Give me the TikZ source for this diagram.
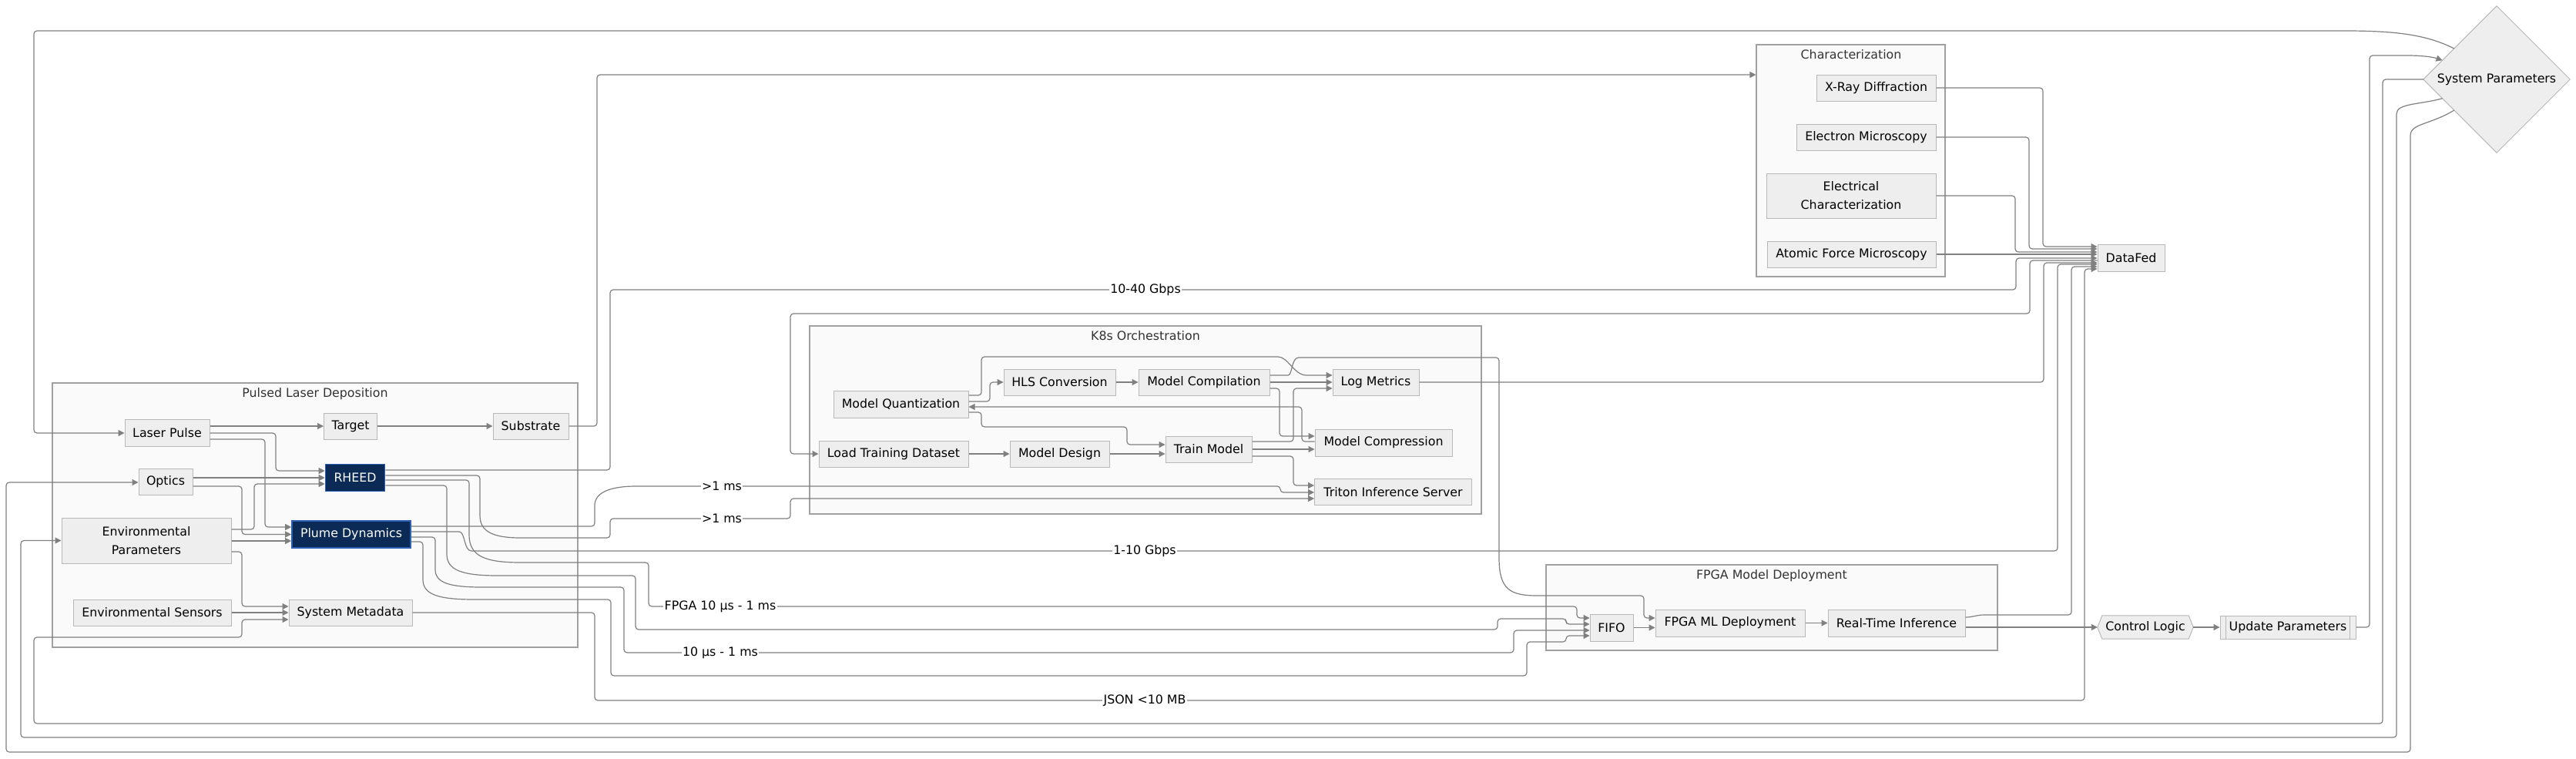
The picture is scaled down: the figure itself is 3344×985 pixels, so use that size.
\documentclass[tikz,border=0pt]{standalone}
\usepackage{fontspec}
\setmainfont{DejaVu Sans}
\usetikzlibrary{arrows.meta,calc,backgrounds}
\definecolor{nodefill}{HTML}{EEEEEE}
\definecolor{nodeborder}{HTML}{B8B8B8}
\definecolor{clusterfill}{HTML}{FAFAFA}
\definecolor{clusterborder}{HTML}{A0A0A0}
\definecolor{darkfill}{HTML}{0B2A55}
\definecolor{darkborder}{HTML}{2D5FB5}
\definecolor{edgecol}{HTML}{808080}
\definecolor{titletext}{HTML}{333333}
\begin{document}
\begin{tikzpicture}[x=1pt,y=-1pt,
  font=\fontsize{15.8}{24}\selectfont,
  box/.style={draw=nodeborder, fill=nodefill, line width=1pt, inner xsep=4pt, inner ysep=2pt, align=center, text=black},
  dark/.style={box, draw=darkborder, fill=darkfill, text=white, line width=1.6pt},
  cluster/.style={draw=clusterborder, fill=clusterfill, line width=1.2pt, inner sep=0pt},
  ctitle/.style={text=titletext, inner sep=0pt},
  shapebox/.style={draw=nodeborder, fill=nodefill, line width=1pt},
  conn/.style={draw=edgecol, line width=1.2pt, rounded corners=4pt},
  conarr/.style={conn, -{Triangle[length=8pt,width=8pt]}},
  elabel/.style={fill=white, inner sep=1.5pt, text=black}
]
\useasboundingbox (0,0) rectangle (3344,985);
\begin{pgfonlayer}{background}
\fill[white] (0,0) rectangle (3344,985);
\node[cluster,minimum width=682,minimum height=343] (pld) at (409,668.5) {};
\node[cluster,minimum width=245,minimum height=301] (char) at (2402.5,208.5) {};
\node[cluster,minimum width=872,minimum height=244] (k8s) at (1487,545) {};
\node[cluster,minimum width=586,minimum height=111] (fpga) at (2300,788.5) {};
\end{pgfonlayer}

% cluster titles
\node[ctitle,anchor=base] (pldt) at (409,515.5) {Pulsed Laser Deposition};
\node[ctitle,anchor=base] (chart) at (2403,76.5) {Characterization};
\node[ctitle,anchor=base] (k8st) at (1487,441.5) {K8s Orchestration};
\node[ctitle,anchor=base] (fpgat) at (2300,751.5) {FPGA Model Deployment};

% PLD nodes
\node[box,minimum width=110,minimum height=35] (lp) at (217,562) {Laser Pulse};
\node[box,minimum width=69,minimum height=34] (tg) at (455,553) {Target};
\node[box,minimum width=98,minimum height=34] (sb) at (689,553) {Substrate};
\node[dark,minimum width=77,minimum height=35] (rh) at (461,620) {RHEED};
\node[box,minimum width=70,minimum height=34] (op) at (215,625) {Optics};
\node[box,minimum width=220,minimum height=59] (ep) at (190,701.5) {Environmental\\Parameters};
\node[dark,minimum width=154,minimum height=35] (pd) at (456,693.5) {Plume Dynamics};
\node[box,minimum width=205,minimum height=34] (es) at (197.5,795) {Environmental Sensors};
\node[box,minimum width=160,minimum height=34] (sm) at (455,795) {System Metadata};

% Characterization nodes
\node[box,minimum width=155,minimum height=34] (xrd) at (2435.5,114) {X-Ray Diffraction};
\node[box,minimum width=181,minimum height=34] (em) at (2422.5,178) {Electron Microscopy};
\node[box,minimum width=220,minimum height=58] (ec) at (2403,254) {Electrical\\Characterization};
\node[box,minimum width=219,minimum height=34] (afm) at (2403.5,330) {Atomic Force Microscopy};
\node[box,minimum width=87,minimum height=35] (df) at (2766.5,334.5) {DataFed};
\node[minimum width=190,minimum height=190,inner sep=0pt,text=black] (sp) at (3241,103) {System Parameters};

% K8s nodes
\node[box,minimum width=175,minimum height=35] (mq) at (1169.5,524.5) {Model Quantization};
\node[box,minimum width=145,minimum height=34] (hls) at (1375.5,496) {HLS Conversion};
\node[box,minimum width=170,minimum height=34] (mc) at (1563,496) {Model Compilation};
\node[box,minimum width=112,minimum height=34] (lm) at (1786,496) {Log Metrics};
\node[box,minimum width=194,minimum height=34] (ltd) at (1160,589) {Load Training Dataset};
\node[box,minimum width=129,minimum height=34] (md) at (1375.5,589) {Model Design};
\node[box,minimum width=112,minimum height=34] (tm) at (1569,583) {Train Model};
\node[box,minimum width=178,minimum height=35] (mcp) at (1796,574.5) {Model Compression};
\node[box,minimum width=204,minimum height=34] (tri) at (1808.5,638.5) {Triton Inference Server};

% FPGA nodes
\node[box,minimum width=56,minimum height=35] (fifo) at (2092,814.5) {FIFO};
\node[box,minimum width=194,minimum height=35] (fml) at (2246,808.5) {FPGA ML Deployment};
\node[box,minimum width=178,minimum height=35] (rti) at (2462,808.5) {Real-Time Inference};
\node[minimum width=124,minimum height=30,inner sep=0pt,text=black] (cl) at (2785,814) {Control Logic};
\node[box,minimum width=176,minimum height=30] (up) at (2970,814) {Update Parameters};
\draw[draw=nodeborder,line width=1pt] ([xshift=8pt]up.north west) -- ([xshift=8pt]up.south west);
\draw[draw=nodeborder,line width=1pt] ([xshift=-8pt]up.north east) -- ([xshift=-8pt]up.south east);

\begin{pgfonlayer}{background}
\filldraw[shapebox] (sp.west) -- (sp.north) -- (sp.east) -- (sp.south) -- cycle;
\filldraw[shapebox] (cl.west) -- ([xshift=6pt]cl.north west) -- ([xshift=-6pt]cl.north east) -- (cl.east) -- ([xshift=-6pt]cl.south east) -- ([xshift=6pt]cl.south west) -- cycle;
\end{pgfonlayer}

\coordinate (spA) at ($(sp.west)!0.42!(sp.north)$);
\coordinate (spB) at ($(sp.west)!0.26!(sp.north)$);
\coordinate (spC) at ($(sp.west)!0.26!(sp.south)$);
\coordinate (spD) at ($(sp.west)!0.42!(sp.south)$);

% PLD edges
\draw[conarr] ([yshift=9pt]lp.east) -- (tg.west);
\draw[conarr] (tg.east) -- (sb.west);
\draw[conarr] (lp.east) -- (358,562) -- (358,611) -- ([yshift=9pt]rh.west);
\draw[conarr] ([yshift=-8pt]lp.east) -- (344,570) -- (344,684) -- ([yshift=9.5pt]pd.west);
\draw[conarr] ([yshift=5pt]op.east) -- (rh.west);
\draw[conarr] ([yshift=-6pt]op.east) -- (314,631) -- (314,693.5) -- (pd.west);
\draw[conarr] ([yshift=14.5pt]ep.east) -- (330,687) -- (330,628) -- ([yshift=-8pt]rh.west);
\draw[conarr] ([yshift=-0.5pt]ep.east) -- ([yshift=-8.5pt]pd.west);
\draw[conarr] ([yshift=-14.5pt]ep.east) -- (314,716) -- (314,787) -- ([yshift=8pt]sm.west);
\draw[conarr] (es.east) -- (sm.west);

% System Parameters feedback
\draw[conarr] (spA) .. controls (3150,45) and (3110,40) .. (3040,40) -- (44,40) -- (44,562) -- (lp.west);
\draw[conarr] (sp.west) -- (3093,103) -- (3093,939) -- (44,939) -- (44,827) -- (314,827) -- (314,804) -- ([yshift=-9pt]sm.west);
\draw[conarr] (spC) .. controls (3140,136) and (3111,134) .. (3111,152) -- (3111,957) -- (27,957) -- (27,701.5) -- (ep.west);
\draw[conarr] (spD) .. controls (3155,162) and (3129,160) .. (3129,180) -- (3129,976) -- (8,976) -- (8,626) -- ([yshift=-1pt]op.west);
\draw[conarr] (up.east) -- (3076,814) -- (3076,72) -- (3120,72) .. controls (3145,72) and (3158,74) .. (spB);

% Characterization
\draw[conarr] (sb.east) -- (775,553) -- (775,97) -- ([yshift=111.5pt]char.west);
\draw[conarr] (xrd.east) -- (2652,114) -- (2652,320) -- ([yshift=14.5pt]df.west);
\draw[conarr] (em.east) -- (2634,178) -- (2634,323) -- ([yshift=11.5pt]df.west);
\draw[conarr] (ec.east) -- (2616,254) -- (2616,327) -- ([yshift=7.5pt]df.west);
\draw[conarr] (afm.east) -- ([yshift=4.5pt]df.west);

% to / from DataFed
\draw[conarr] ([yshift=10pt]rh.east) -- (792,610) -- (792,376) -- (2617,376) -- (2617,335) -- ([yshift=-0.5pt]df.west);
\draw[conarr] ([yshift=-3.5pt]df.west) -- (2635,338) -- (2635,407) -- (1026,407) -- (1026,589) -- (ltd.west);
\draw[conarr] (lm.east) -- (2653,496) -- (2653,341) -- ([yshift=-6.5pt]df.west);
\draw[conarr] ([yshift=3.5pt]pd.east) -- (592,690) .. controls (604,690) and (602,715) .. (616,715) -- (2671,715) -- (2671,343) -- ([yshift=-8.5pt]df.west);
\draw[conarr] ([yshift=7.5pt]rti.east) .. controls (2562,801) and (2565,798) .. (2580,798) -- (2689,798) -- (2689,346) -- ([yshift=-11.5pt]df.west);
\draw[conarr] (sm.east) -- (772,795) -- (772,909) -- (2706,909) -- (2706,349) -- ([yshift=-14.5pt]df.west);

% to Triton
\draw[conarr] ([yshift=3pt]rh.east) -- (623,617) -- (623,665) .. controls (623,690) and (640,698) .. (680,698) -- (792,698) -- (792,673) -- (1026,673) -- (1026,647) -- ([yshift=-8.5pt]tri.west);
\draw[conarr] ([yshift=10.5pt]pd.east) -- (772,683) -- (772,660) .. controls (772,640) and (790,631) .. (830,631) -- (1662,631) -- (1662,639) -- ([yshift=-0.5pt]tri.west);

% to FIFO
\draw[conarr] ([yshift=-3pt]rh.east) -- (609,623) -- (609,690) .. controls (609,722) and (630,730) .. (680,730) -- (842,730) -- (842,787) -- (2047,787) -- (2047,802) -- ([yshift=12.5pt]fifo.west);
\draw[conarr] ([yshift=-10pt]rh.east) -- (580,630) -- (580,715) .. controls (580,740) and (600,747) .. (650,747) -- (825,747) -- (825,817) -- (1944,817) -- (1944,803) -- (2033,803) -- (2033,810) -- ([yshift=4.5pt]fifo.west);
\draw[conarr] ([yshift=-3.5pt]pd.east) -- (565,697) -- (565,735) .. controls (565,757) and (585,762) .. (630,762) -- (810,762) -- (810,847) -- (1965,847) -- (1965,818) -- ([yshift=-3.5pt]fifo.west);
\draw[conarr] ([yshift=-9.5pt]pd.east) -- (549,703) -- (549,748) .. controls (549,772) and (570,778) .. (620,778) -- (793,778) -- (793,877) -- (1982,877) -- (1982,833) -- (2033,833) -- (2033,825) -- ([yshift=-10.5pt]fifo.west);

% FPGA chain
\draw[conarr] ([yshift=9pt]mc.east) -- (1668,487) .. controls (1678,487) and (1676,464) .. (1690,464) -- (1946,464) -- (1946,720) .. controls (1946,765) and (1960,773) .. (2000,773) -- (2134,773) -- (2134,802) -- ([yshift=6.5pt]fml.west);
\draw[conarr] (fifo.east) -- ([yshift=-6pt]fml.west);
\draw[conarr] (fml.east) -- (rti.west);
\draw[conarr] ([yshift=-5.5pt]rti.east) -- (cl.west);
\draw[conarr] (cl.east) -- (up.west);

% K8s edges
\draw[conarr] (ltd.east) -- (md.west);
\draw[conarr] (md.east) -- ([yshift=-6pt]tm.west);
\draw[conarr] ([yshift=11.5pt]mq.east) -- (1274,513) -- (1274,463) -- (1655,463) .. controls (1672,463) and (1680,487) .. (1700,487) -- ([yshift=9pt]lm.west);
\draw[conarr] ([yshift=3.5pt]mq.east) -- (1285,521) -- (1285,496) -- (hls.west);
\draw[conarr] ([yshift=-10.5pt]mq.east) -- (1274,535) -- (1274,554) -- (1463,554) -- (1463,577) -- ([yshift=6pt]tm.west);
\draw[conarr] ([yshift=1.5pt]mcp.west) -- (1690,573) -- (1690,528) -- ([yshift=-3.5pt]mq.east);
\draw[conarr] (hls.east) -- (mc.west);
\draw[conarr] (mc.east) -- (lm.west);
\draw[conarr] ([yshift=-8pt]mc.east) -- (1661,504) -- (1661,566) -- ([yshift=8.5pt]mcp.west);
\draw[conarr] ([yshift=10pt]tm.east) -- (1679,573) -- (1679,504) -- ([yshift=-8pt]lm.west);
\draw[conarr] (tm.east) -- ([yshift=-8.5pt]mcp.west);
\draw[conarr] ([yshift=-9pt]tm.east) -- (1679,592) -- (1679,630) -- ([yshift=8.5pt]tri.west);

% edge labels
\node[elabel] (lab1) at (1487,376) {10-40 Gbps};
\node[elabel] (lab2) at (937,631) {>1 ms};
\node[elabel] (lab3) at (937,673) {>1 ms};
\node[elabel] (lab4) at (1486,715) {1-10 Gbps};
\node[elabel] (lab5) at (935,787) {FPGA 10 µs - 1 ms};
\node[elabel] (lab6) at (935,847) {10 µs - 1 ms};
\node[elabel] (lab7) at (1486,909) {JSON <10 MB};
\end{tikzpicture}
\end{document}
